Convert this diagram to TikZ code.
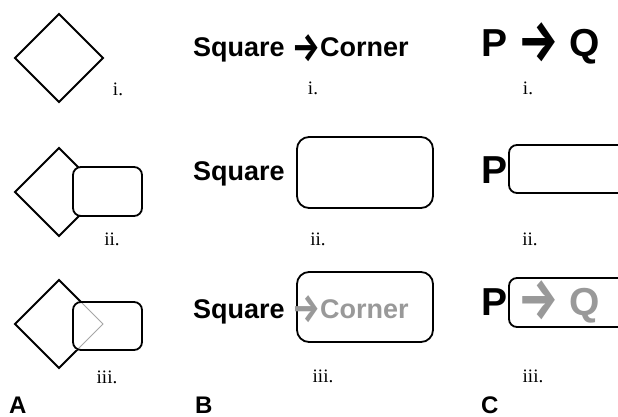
\documentclass[tikz,border=0pt]{standalone}
\usepackage{fontspec}
\setmainfont{Liberation Serif}
\setsansfont{Liberation Sans}
\newfontfamily\arrowfont{Fira Sans}

\tikzset{
  outline/.style={draw=black, line width=1.8pt, line join=miter},
  roundbox/.style={draw=black, line width=1.8pt, fill=white},
  faint/.style={draw=black!35, line width=0.9pt},
  numlab/.style={inner sep=0pt, font=\fontsize{19}{21}\selectfont},
  panellab/.style={inner sep=0pt, anchor=base west, font=\sffamily\bfseries\fontsize{24}{26}\selectfont},
  wordB/.style={inner sep=0pt, anchor=base west, font=\sffamily\bfseries\fontsize{27}{30}\selectfont},
  wordC/.style={inner sep=0pt, anchor=base west, font=\sffamily\bfseries\fontsize{39}{42}\selectfont},
}
% tall open arrow, lowered by #1 after stretching
\newcommand{\tallarrow}[1]{\raisebox{-#1em}{\scalebox{1.15}[1.5]{\arrowfont\bfseries →}}}

\begin{document}
\begin{tikzpicture}[x=1pt,y=-1pt]
\useasboundingbox (0,0) rectangle (618,417);
\clip (0,0) rectangle (618,417);

% ---------- column A: shapes ----------
\draw[outline] (59,14) -- (103,58) -- (59,102) -- (15,58) -- cycle;
\node[numlab] (ai) at (118,89) {i.};

\draw[outline] (59,148) -- (103,192) -- (59,236) -- (15,192) -- cycle;
\draw[roundbox, rounded corners=8pt] (73,167) rectangle (142,216);
\node[numlab] (aii) at (112,239) {ii.};

\draw[outline] (59,280) -- (103,324) -- (59,368) -- (15,324) -- cycle;
\fill[white] (73,302) rectangle (142,350);
\begin{scope}
  \clip[rounded corners=8pt] (73,302) rectangle (142,350);
  \draw[faint] (59,280) -- (103,324) -- (59,368);
\end{scope}
\draw[roundbox, fill=none, rounded corners=8pt] (73,302) rectangle (142,350);
\node[numlab] (aiii) at (107,377) {iii.};

\node[panellab] (A) at (9,413) {A};

% ---------- column B: words ----------
\node[wordB] (bi) at (193,57) {Square \tallarrow{0.17}Corner};
\node[numlab] (bil) at (313,88) {i.};

\draw[roundbox, rounded corners=12pt] (297,137) rectangle (433,208);
\node[wordB] (bii) at (193,180) {Square};
\node[numlab] (biil) at (318,239) {ii.};

\draw[roundbox, rounded corners=12pt] (297,272) rectangle (433,342);
\node[wordB] (biii) at (193,318) {Square {\color{black!40}\tallarrow{0.17}Corner}};
\node[numlab] (biiil) at (323,376) {iii.};

\node[panellab] (B) at (195,413) {B};

% ---------- column C: letters ----------
\node[wordC] (ci) at (481,57) {P \tallarrow{0.12} Q};
\node[numlab] (cil) at (528,88) {i.};

\draw[roundbox, rounded corners=8pt] (509,145) rectangle (640,193);
\node[wordC] (cii) at (481,183) {P};
\node[numlab] (ciil) at (530,239) {ii.};

\draw[roundbox, rounded corners=8pt] (509,278) rectangle (640,327);
\node[wordC] (ciii) at (481,315) {P {\color{black!40}\tallarrow{0.12} Q}};
\node[numlab] (ciiil) at (533,376) {iii.};

\node[panellab] (C) at (481,413) {C};
\end{tikzpicture}
\end{document}
